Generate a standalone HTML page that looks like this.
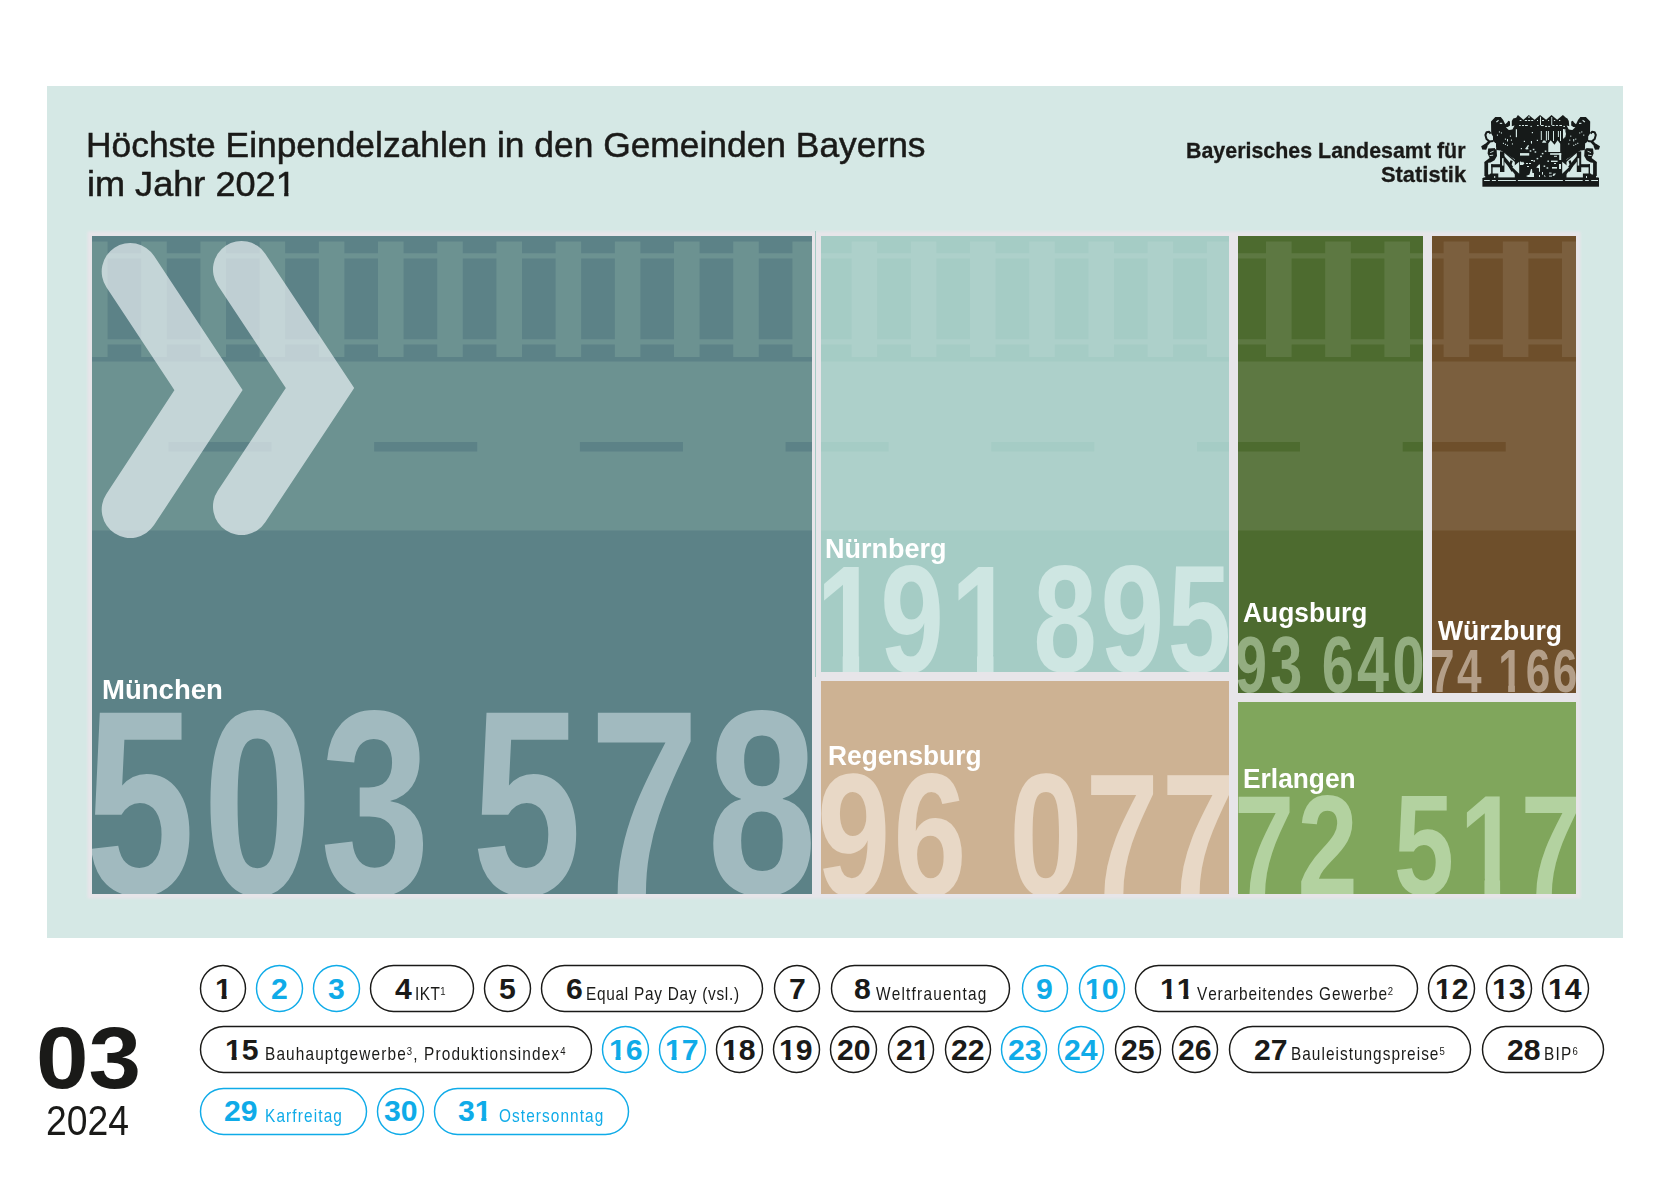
<!DOCTYPE html>
<html lang="de">
<head>
<meta charset="utf-8">
<title>Höchste Einpendelzahlen in den Gemeinden Bayerns im Jahr 2021</title>
<style>
html,body{margin:0;padding:0;background:#fff}
body{width:1670px;height:1182px;position:relative;overflow:hidden;font-family:'Liberation Sans',sans-serif;font-kerning:none;color:#1a1a18}
.panel{position:absolute;left:47px;top:86px;width:1576px;height:852px;background:#d5e8e5}
.gfx{position:absolute;left:0;top:0;width:1670px;height:1182px;display:block}
.t{position:absolute;margin:0;padding:0;font-weight:400;line-height:1;white-space:pre;transform-origin:0 0}
b.t{font-weight:700}
.tile{position:absolute;overflow:hidden}
.big{position:absolute;font-weight:700;line-height:1;white-space:pre;color:#fff;transform-origin:0 0}
sup{font-size:.62em;vertical-align:baseline;position:relative;top:-.42em;line-height:0}
.o1{display:inline-block;clip-path:polygon(-9px -9px,35px -9px,35px 25.20px,12.33px 25.20px,12.33px 70px,8.25px 70px,8.25px 25.20px,-9px 25.20px)}
.o2{display:inline-block;clip-path:polygon(-9px -9px,30px -9px,30px 20.92px,11.69px 20.92px,11.69px 60px,6.55px 60px,6.55px 20.92px,-9px 20.92px)}
.o3{display:inline-block;clip-path:polygon(-9px -9px,151px -9px,151px 111.15px,56.61px 111.15px,56.61px 303px,34.84px 303px,34.84px 111.15px,-9px 111.15px)}
.o4{display:inline-block;clip-path:polygon(-9px -9px,61px -9px,61px 43.52px,22.96px 43.52px,22.96px 121px,13.64px 121px,13.64px 43.52px,-9px 43.52px)}
.o5{display:inline-block;clip-path:polygon(-9px -9px,143px -9px,143px 104.81px,53.50px 104.81px,53.50px 286px,32.88px 286px,32.88px 104.81px,-9px 104.81px)}
</style>
</head>
<body>
<div class="panel"></div>
<header>
<h1 class="t" style="left:86.25px;top:128px;font-size:34.8px;transform:scaleX(1.0164);-webkit-text-stroke:0.5px #1a1a18;">Höchste Einpendelzahlen in den Gemeinden Bayerns</h1>
<div class="t" style="left:87.25px;top:167px;font-size:34.8px;transform:scaleX(1.0375);-webkit-text-stroke:0.5px #1a1a18;">im Jahr 202<span class="o1">1</span></div>
<div class="t" style="left:1185.75px;top:140px;font-size:22px;transform:scaleX(0.9727);-webkit-text-stroke:0.3px #1a1a18;font-weight:700;">Bayerisches Landesamt für</div>
<div class="t" style="left:1381px;top:164px;font-size:22px;transform:scaleX(0.9940);-webkit-text-stroke:0.3px #1a1a18;font-weight:700;">Statistik</div>
<svg class="gfx" width="1670" height="1182" viewBox="0 0 1670 1182" role="img" aria-label="Bayerisches Staatswappen">
<rect x="1482.4" y="178.0" width="116.6" height="8.7" fill="#161a19"/>
<rect x="1483.4" y="177.4" width="115.2" height="1.6" fill="#161a19"/>
<rect x="1484.1" y="180.0" width="5.7" height="1.0" fill="#d5e8e5"/>
<rect x="1491.9" y="180.0" width="4.0" height="1.0" fill="#d5e8e5"/>
<rect x="1498.0" y="180.0" width="17.9" height="1.0" fill="#d5e8e5"/>
<rect x="1517.9" y="180.0" width="45.0" height="1.0" fill="#d5e8e5"/>
<rect x="1565.1" y="180.0" width="17.6" height="1.0" fill="#d5e8e5"/>
<rect x="1585.1" y="180.0" width="3.7" height="1.0" fill="#d5e8e5"/>
<rect x="1591.2" y="180.0" width="6.8" height="1.0" fill="#d5e8e5"/>
<path d="M1511.8 128.0L1511.8 121.1L1513.2 118.4L1516.2 117.8L1517.9 115.0L1523.4 119.8L1528.8 115.0L1534.6 119.8L1540.0 115.0L1546.1 119.8L1551.5 115.0L1557.2 119.8L1562.9 115.0L1566.0 117.8L1567.4 118.4L1568.8 121.1L1569.4 128.0L1566.5 131.0L1566.5 178.0L1514.8 178.0L1514.8 131.0Z" fill="#161a19"/>
<path d="M1491.0 121.5L1495.3 117.0L1500.8 117.0L1503.2 120.0L1505.2 124.2L1507.2 122.4L1508.4 120.8L1510.0 121.4L1510.0 125.6L1507.6 127.2L1509.5 129.6L1513.0 128.4L1516.0 131.0L1516.0 160.0L1511.0 157.0L1505.0 152.5L1500.5 150.5L1496.5 150.0L1495.6 143.5L1493.0 140.5L1493.0 136.5L1491.2 133.5Z" fill="#161a19"/>
<path d="M1493.5 141.0L1489.5 141.5L1486.5 139.0L1485.4 135.0L1486.6 132.2L1489.2 131.8L1490.6 133.6" fill="none" stroke="#161a19" stroke-width="2.0" stroke-linecap="butt" stroke-linejoin="round"/>
<path d="M1489.5 141.5L1486.3 145.0L1483.5 148.2" fill="none" stroke="#161a19" stroke-width="2.6" stroke-linecap="butt" stroke-linejoin="round"/>
<path d="M1481.2 146.3L1485.6 143.6L1487.6 146.6L1486.2 149.8L1482.2 149.6Z" fill="#161a19"/>
<path d="M1488.2 148.6L1496.5 148.0L1497.0 156.0L1494.5 160.2L1490.5 162.6L1484.6 163.2L1484.6 161.8L1489.6 158.0L1487.6 153.4Z" fill="#161a19"/>
<rect x="1484.4" y="162.2" width="3.7" height="13.8" fill="#161a19"/>
<path d="M1485.2 174.6L1489.5 174.6L1490.5 173.6L1498.3 173.6L1498.3 178.2L1485.2 178.2Z" fill="#161a19"/>
<rect x="1491.2" y="164.2" width="9.2" height="3.1" fill="#161a19"/>
<rect x="1491.2" y="164.2" width="1.4" height="9.8" fill="#161a19"/>
<rect x="1500.0" y="151.4" width="4.4" height="20.6" fill="#161a19"/>
<path d="M1502.6 156.8L1519.6 177.2" fill="none" stroke="#161a19" stroke-width="3.6" stroke-linecap="butt" stroke-linejoin="round"/>
<path d="M1503.2 151.0L1515.5 161.5" fill="none" stroke="#161a19" stroke-width="1.5" stroke-linecap="butt" stroke-linejoin="round"/>
<path d="M1511.6 160.6L1509.8 166.5L1512.6 171.2" fill="none" stroke="#161a19" stroke-width="2.4" stroke-linecap="butt" stroke-linejoin="round"/>
<rect x="1502.0" y="158.2" width="1.6" height="7.4" fill="#d5e8e5"/>
<rect x="1495.0" y="143.2" width="1.0" height="6.0" fill="#d5e8e5"/>
<path d="M1496.0 121.6L1498.4 119.8L1498.8 120.8L1496.8 122.6Z" fill="#d5e8e5"/>
<rect x="1499.8" y="122.8" width="2.4" height="1.1" fill="#d5e8e5"/>
<path d="M1505.8 127.2L1509.6 126.8L1514.6 125.6L1512.4 129.6L1508.8 129.9Z" fill="#d5e8e5"/>
<rect x="1515.8" y="129.2" width="1.2" height="8.0" fill="#d5e8e5"/>
<rect x="1498.9" y="131.4" width="1.1" height="1.1" fill="#d5e8e5"/>
<rect x="1500.9" y="132.4" width="1.1" height="1.1" fill="#d5e8e5"/>
<rect x="1496.9" y="134.6" width="1.1" height="1.1" fill="#d5e8e5"/>
<rect x="1504.9" y="138.6" width="1.1" height="1.1" fill="#d5e8e5"/>
<rect x="1509.9" y="135.6" width="1.1" height="1.1" fill="#d5e8e5"/>
<rect x="1510.9" y="139.6" width="1.1" height="1.1" fill="#d5e8e5"/>
<rect x="1502.9" y="142.8" width="1.1" height="1.1" fill="#d5e8e5"/>
<rect x="1504.9" y="143.8" width="1.1" height="1.1" fill="#d5e8e5"/>
<rect x="1506.9" y="144.8" width="1.1" height="1.1" fill="#d5e8e5"/>
<rect x="1511.9" y="143.4" width="1.1" height="1.1" fill="#d5e8e5"/>
<rect x="1507.0" y="139.0" width="1.0" height="2.4" fill="#d5e8e5"/>
<path d="M1490.2 152.6L1493.6 151.2" fill="none" stroke="#d5e8e5" stroke-width="0.9" stroke-linecap="butt" stroke-linejoin="round"/>
<path d="M1489.6 155.6L1493.2 155.2" fill="none" stroke="#d5e8e5" stroke-width="0.9" stroke-linecap="butt" stroke-linejoin="round"/>
<rect x="1494.2" y="176.0" width="1.0" height="2.0" fill="#d5e8e5"/>
<path d="M1590.2 121.5L1585.9 117.0L1580.4 117.0L1578.0 120.0L1576.0 124.2L1574.0 122.4L1572.8 120.8L1571.2 121.4L1571.2 125.6L1573.6 127.2L1571.7 129.6L1568.2 128.4L1565.2 131.0L1565.2 160.0L1570.2 157.0L1576.2 152.5L1580.7 150.5L1584.7 150.0L1585.6 143.5L1588.2 140.5L1588.2 136.5L1590.0 133.5Z" fill="#161a19"/>
<path d="M1587.7 141.0L1591.7 141.5L1594.7 139.0L1595.8 135.0L1594.6 132.2L1592.0 131.8L1590.6 133.6" fill="none" stroke="#161a19" stroke-width="2.0" stroke-linecap="butt" stroke-linejoin="round"/>
<path d="M1591.7 141.5L1594.9 145.0L1597.7 148.2" fill="none" stroke="#161a19" stroke-width="2.6" stroke-linecap="butt" stroke-linejoin="round"/>
<path d="M1600.0 146.3L1595.6 143.6L1593.6 146.6L1595.0 149.8L1599.0 149.6Z" fill="#161a19"/>
<path d="M1593.0 148.6L1584.7 148.0L1584.2 156.0L1586.7 160.2L1590.7 162.6L1596.6 163.2L1596.6 161.8L1591.6 158.0L1593.6 153.4Z" fill="#161a19"/>
<rect x="1593.1" y="162.2" width="3.7" height="13.8" fill="#161a19"/>
<path d="M1596.0 174.6L1591.7 174.6L1590.7 173.6L1582.9 173.6L1582.9 178.2L1596.0 178.2Z" fill="#161a19"/>
<rect x="1580.8" y="164.2" width="9.2" height="3.1" fill="#161a19"/>
<rect x="1588.6" y="164.2" width="1.4" height="9.8" fill="#161a19"/>
<rect x="1576.8" y="151.4" width="4.4" height="20.6" fill="#161a19"/>
<path d="M1578.6 156.8L1561.6 177.2" fill="none" stroke="#161a19" stroke-width="3.6" stroke-linecap="butt" stroke-linejoin="round"/>
<path d="M1578.0 151.0L1565.7 161.5" fill="none" stroke="#161a19" stroke-width="1.5" stroke-linecap="butt" stroke-linejoin="round"/>
<path d="M1569.6 160.6L1571.4 166.5L1568.6 171.2" fill="none" stroke="#161a19" stroke-width="2.4" stroke-linecap="butt" stroke-linejoin="round"/>
<rect x="1577.6" y="158.2" width="1.6" height="7.4" fill="#d5e8e5"/>
<rect x="1585.2" y="143.2" width="1.0" height="6.0" fill="#d5e8e5"/>
<path d="M1585.2 121.6L1582.8 119.8L1582.4 120.8L1584.4 122.6Z" fill="#d5e8e5"/>
<rect x="1579.0" y="122.8" width="2.4" height="1.1" fill="#d5e8e5"/>
<path d="M1575.4 127.2L1571.6 126.8L1566.6 125.6L1568.8 129.6L1572.4 129.9Z" fill="#d5e8e5"/>
<rect x="1564.2" y="129.2" width="1.2" height="8.0" fill="#d5e8e5"/>
<rect x="1581.2" y="131.4" width="1.1" height="1.1" fill="#d5e8e5"/>
<rect x="1579.2" y="132.4" width="1.1" height="1.1" fill="#d5e8e5"/>
<rect x="1583.2" y="134.6" width="1.1" height="1.1" fill="#d5e8e5"/>
<rect x="1575.2" y="138.6" width="1.1" height="1.1" fill="#d5e8e5"/>
<rect x="1570.2" y="135.6" width="1.1" height="1.1" fill="#d5e8e5"/>
<rect x="1569.2" y="139.6" width="1.1" height="1.1" fill="#d5e8e5"/>
<rect x="1577.2" y="142.8" width="1.1" height="1.1" fill="#d5e8e5"/>
<rect x="1575.2" y="143.8" width="1.1" height="1.1" fill="#d5e8e5"/>
<rect x="1573.2" y="144.8" width="1.1" height="1.1" fill="#d5e8e5"/>
<rect x="1568.2" y="143.4" width="1.1" height="1.1" fill="#d5e8e5"/>
<rect x="1573.2" y="139.0" width="1.0" height="2.4" fill="#d5e8e5"/>
<path d="M1591.0 152.6L1587.6 151.2" fill="none" stroke="#d5e8e5" stroke-width="0.9" stroke-linecap="butt" stroke-linejoin="round"/>
<path d="M1591.6 155.6L1588.0 155.2" fill="none" stroke="#d5e8e5" stroke-width="0.9" stroke-linecap="butt" stroke-linejoin="round"/>
<rect x="1586.0" y="176.0" width="1.0" height="2.0" fill="#d5e8e5"/>
<rect x="1519.7" y="120.0" width="1.7" height="1.0" fill="#d5e8e5"/>
<rect x="1524.8" y="120.0" width="2.3" height="1.0" fill="#d5e8e5"/>
<rect x="1528.1" y="120.0" width="2.1" height="1.0" fill="#d5e8e5"/>
<rect x="1531.2" y="120.0" width="2.0" height="1.0" fill="#d5e8e5"/>
<rect x="1537.0" y="120.0" width="1.0" height="1.0" fill="#d5e8e5"/>
<rect x="1542.0" y="120.0" width="2.0" height="1.0" fill="#d5e8e5"/>
<rect x="1548.1" y="120.0" width="1.0" height="1.0" fill="#d5e8e5"/>
<rect x="1553.9" y="120.0" width="1.3" height="1.0" fill="#d5e8e5"/>
<rect x="1559.0" y="120.0" width="1.3" height="1.0" fill="#d5e8e5"/>
<rect x="1528.0" y="116.6" width="2.0" height="1.0" fill="#d5e8e5"/>
<rect x="1519.0" y="125.0" width="1.7" height="1.0" fill="#d5e8e5"/>
<rect x="1522.0" y="125.0" width="2.0" height="1.0" fill="#d5e8e5"/>
<rect x="1525.0" y="125.0" width="2.8" height="1.0" fill="#d5e8e5"/>
<rect x="1530.5" y="125.9" width="1.4" height="1.0" fill="#d5e8e5"/>
<rect x="1537.0" y="125.0" width="1.6" height="1.0" fill="#d5e8e5"/>
<rect x="1541.0" y="125.0" width="2.7" height="1.0" fill="#d5e8e5"/>
<rect x="1545.0" y="125.9" width="2.1" height="1.0" fill="#d5e8e5"/>
<rect x="1548.1" y="125.9" width="2.0" height="1.0" fill="#d5e8e5"/>
<rect x="1552.2" y="125.0" width="2.3" height="1.0" fill="#d5e8e5"/>
<rect x="1555.9" y="125.0" width="2.0" height="1.0" fill="#d5e8e5"/>
<rect x="1559.3" y="125.0" width="2.7" height="1.0" fill="#d5e8e5"/>
<rect x="1563.3" y="125.9" width="1.7" height="1.0" fill="#d5e8e5"/>
<rect x="1540.0" y="116.7" width="1.0" height="8.5" fill="#d5e8e5"/>
<rect x="1551.3" y="117.0" width="0.9" height="8.2" fill="#d5e8e5"/>
<rect x="1540.8" y="131.0" width="1.0" height="9.0" fill="#d5e8e5"/>
<rect x="1545.9" y="131.0" width="1.0" height="9.6" fill="#d5e8e5"/>
<rect x="1547.9" y="131.0" width="1.0" height="9.0" fill="#d5e8e5"/>
<rect x="1553.0" y="131.0" width="1.0" height="10.0" fill="#d5e8e5"/>
<rect x="1557.9" y="131.0" width="1.0" height="6.0" fill="#d5e8e5"/>
<rect x="1560.0" y="131.0" width="1.0" height="10.0" fill="#d5e8e5"/>
<path d="M1563.0 129.0L1564.0 129.0L1566.0 134.0L1564.0 138.4L1563.0 138.4Z" fill="#d5e8e5"/>
<path d="M1548.3 152.0L1548.3 143.5L1550.7 140.3L1554.5 144.8L1557.6 140.3L1560.2 143.8L1560.2 152.0Z" fill="#d5e8e5"/>
<path d="M1542.0 142.8L1543.2 140.4L1545.2 140.4L1546.4 142.8Z" fill="#d5e8e5"/>
<rect x="1550.1" y="153.2" width="11.1" height="1.6" fill="#d5e8e5"/>
<rect x="1559.2" y="153.2" width="2.0" height="6.8" fill="#d5e8e5"/>
<rect x="1554.0" y="155.8" width="3.0" height="1.0" fill="#d5e8e5"/>
<rect x="1551.0" y="160.6" width="6.6" height="1.4" fill="#d5e8e5"/>
<rect x="1554.0" y="163.0" width="2.0" height="1.0" fill="#d5e8e5"/>
<rect x="1552.0" y="167.0" width="5.0" height="1.6" fill="#d5e8e5"/>
<rect x="1549.0" y="172.6" width="2.6" height="1.0" fill="#d5e8e5"/>
<rect x="1549.0" y="175.6" width="3.0" height="1.0" fill="#d5e8e5"/>
<path d="M1552.5 175.8L1553.5 173.6L1556.0 173.6L1554.0 176.0Z" fill="#d5e8e5"/>
<path d="M1544.0 175.0L1546.0 176.4L1548.0 176.6L1544.0 176.6Z" fill="#d5e8e5"/>
<rect x="1559.0" y="164.0" width="2.0" height="5.0" fill="#d5e8e5"/>
<path d="M1562.2 161.8L1569.0 167.2L1562.2 173.7Z" fill="#d5e8e5"/>
<path d="M1519.2 161.8L1512.4 167.2L1519.2 173.7Z" fill="#d5e8e5"/>
<rect x="1520.0" y="153.1" width="9.2" height="2.5" fill="#d5e8e5"/>
<path d="M1520.0 161.4L1521.0 161.4L1522.0 162.6L1523.0 161.4L1524.4 163.4L1523.0 165.0L1520.0 165.0Z" fill="#d5e8e5"/>
<rect x="1526.0" y="163.0" width="2.0" height="1.0" fill="#d5e8e5"/>
<rect x="1529.0" y="163.0" width="2.0" height="1.0" fill="#d5e8e5"/>
<rect x="1527.0" y="166.0" width="2.0" height="1.0" fill="#d5e8e5"/>
<rect x="1531.0" y="160.0" width="2.0" height="1.0" fill="#d5e8e5"/>
<path d="M1536.2 167.6L1539.0 164.4L1540.0 164.4L1540.0 171.8L1539.0 171.8L1539.0 168.2Z" fill="#d5e8e5"/>
<path d="M1526.0 176.0L1529.5 174.4L1531.0 169.0L1532.0 169.0L1532.4 173.0L1534.0 173.0L1534.0 177.0L1528.0 177.0Z" fill="#d5e8e5"/>
<rect x="1539.0" y="175.0" width="1.0" height="2.0" fill="#d5e8e5"/>
<rect x="1542.0" y="172.0" width="1.0" height="2.6" fill="#d5e8e5"/>
<rect x="1526.7" y="147.9" width="1.6" height="1.4" fill="#d5e8e5"/>
<rect x="1529.7" y="150.3" width="1.6" height="1.4" fill="#d5e8e5"/>
<rect x="1532.8" y="148.8" width="1.6" height="1.4" fill="#d5e8e5"/>
<rect x="1534.6" y="151.3" width="1.6" height="1.4" fill="#d5e8e5"/>
<rect x="1541.8" y="152.9" width="1.6" height="1.4" fill="#d5e8e5"/>
<rect x="1540.2" y="155.7" width="1.6" height="1.4" fill="#d5e8e5"/>
<rect x="1536.6" y="157.9" width="1.6" height="1.4" fill="#d5e8e5"/>
<rect x="1533.4" y="160.3" width="1.6" height="1.4" fill="#d5e8e5"/>
<rect x="1544.8" y="150.5" width="1.6" height="1.4" fill="#d5e8e5"/>
<rect x="1547.4" y="160.5" width="1.6" height="1.4" fill="#d5e8e5"/>
<rect x="1543.6" y="165.5" width="1.6" height="1.4" fill="#d5e8e5"/>
<rect x="1546.6" y="167.3" width="1.6" height="1.4" fill="#d5e8e5"/>
<path d="M1525.0 149.0L1528.0 145.0L1529.0 145.6L1527.0 149.6Z" fill="#d5e8e5"/>
<rect x="1531.8" y="132.0" width="1.2" height="1.2" fill="#d5e8e5"/>
<rect x="1523.8" y="140.8" width="1.2" height="1.2" fill="#d5e8e5"/>
<rect x="1536.8" y="139.8" width="1.2" height="1.2" fill="#d5e8e5"/>
<rect x="1530.8" y="141.4" width="1.2" height="1.2" fill="#d5e8e5"/>
<rect x="1520.8" y="148.0" width="1.2" height="1.2" fill="#d5e8e5"/>
<rect x="1531.0" y="141.0" width="1.0" height="2.6" fill="#d5e8e5"/>
</svg>
</header>
<main>
<svg class="gfx" width="1670" height="1182" viewBox="0 0 1670 1182">
<defs>
<clipPath id="c_mu"><rect x="92" y="236" width="720" height="658"/></clipPath>
<clipPath id="c_nu"><rect x="821" y="236" width="408" height="436"/></clipPath>
<clipPath id="c_au"><rect x="1238" y="236" width="185" height="457"/></clipPath>
<clipPath id="c_wu"><rect x="1432" y="236" width="144" height="457"/></clipPath>
<filter id="bl" x="-1%" y="-2%" width="102%" height="104%"><feGaussianBlur stdDeviation="1.1"/></filter>
</defs>
<rect x="87.5" y="231.5" width="1493" height="667" fill="#e7e5e9" filter="url(#bl)"/>
<path d="M812 236h9v658h-9zM1229 236h9v658h-9zM1423 236h9v457h-9zM821 672h408v9h-408zM1238 693h338v9h-338z" fill="#e7e5e9"/>
<rect x="815" y="231" width="1" height="446" fill="#a5ccc5"/>
<rect x="92" y="236" width="720" height="658" fill="#5c8287"/>
<rect x="821" y="236" width="408" height="436" fill="#a5ccc5"/>
<rect x="821" y="681" width="408" height="213" fill="#cdb293"/>
<rect x="1238" y="236" width="185" height="457" fill="#4d6b2f"/>
<rect x="1432" y="236" width="144" height="457" fill="#6e4f2b"/>
<rect x="1238" y="702" width="338" height="192" fill="#80a65c"/>
<g clip-path="url(#c_mu)" fill="#d7fddc" fill-opacity="0.13"><path d="M82.0 241.6h25.6V357h-25.6ZM107.6 253.2H141.2V258.4H107.6ZM107.6 339.2H141.2V344.6H107.6ZM141.2 241.6h25.6V357h-25.6ZM166.8 253.2H200.4V258.4H166.8ZM166.8 339.2H200.4V344.6H166.8ZM200.4 241.6h25.6V357h-25.6ZM226.0 253.2H259.6V258.4H226.0ZM226.0 339.2H259.6V344.6H226.0ZM259.6 241.6h25.6V357h-25.6ZM285.2 253.2H318.8V258.4H285.2ZM285.2 339.2H318.8V344.6H285.2ZM318.8 241.6h25.6V357h-25.6ZM344.4 253.2H378.0V258.4H344.4ZM344.4 339.2H378.0V344.6H344.4ZM378.0 241.6h25.6V357h-25.6ZM403.6 253.2H437.2V258.4H403.6ZM403.6 339.2H437.2V344.6H403.6ZM437.2 241.6h25.6V357h-25.6ZM462.8 253.2H496.4V258.4H462.8ZM462.8 339.2H496.4V344.6H462.8ZM496.4 241.6h25.6V357h-25.6ZM522.0 253.2H555.6V258.4H522.0ZM522.0 339.2H555.6V344.6H522.0ZM555.6 241.6h25.6V357h-25.6ZM581.2 253.2H614.8V258.4H581.2ZM581.2 339.2H614.8V344.6H581.2ZM614.8 241.6h25.6V357h-25.6ZM640.4 253.2H674.0V258.4H640.4ZM640.4 339.2H674.0V344.6H640.4ZM674.0 241.6h25.6V357h-25.6ZM699.6 253.2H733.2V258.4H699.6ZM699.6 339.2H733.2V344.6H699.6ZM733.2 241.6h25.6V357h-25.6ZM758.8 253.2H792.4V258.4H758.8ZM758.8 339.2H792.4V344.6H758.8ZM792.4 241.6h25.6V357h-25.6ZM818.0 253.2H851.6V258.4H818.0ZM818.0 339.2H851.6V344.6H818.0ZM851.6 241.6h25.6V357h-25.6ZM877.2 253.2H910.8V258.4H877.2ZM877.2 339.2H910.8V344.6H877.2ZM910.8 241.6h25.6V357h-25.6ZM936.4 253.2H970.0V258.4H936.4ZM936.4 339.2H970.0V344.6H936.4ZM970.0 241.6h25.6V357h-25.6ZM995.6 253.2H1029.2V258.4H995.6ZM995.6 339.2H1029.2V344.6H995.6ZM1029.2 241.6h25.6V357h-25.6ZM1054.8 253.2H1088.4V258.4H1054.8ZM1054.8 339.2H1088.4V344.6H1054.8ZM1088.4 241.6h25.6V357h-25.6ZM1114.0 253.2H1147.6V258.4H1114.0ZM1114.0 339.2H1147.6V344.6H1114.0ZM1147.6 241.6h25.6V357h-25.6ZM1173.2 253.2H1206.8V258.4H1173.2ZM1173.2 339.2H1206.8V344.6H1173.2ZM1206.8 241.6h25.6V357h-25.6ZM1232.4 253.2H1266.0V258.4H1232.4ZM1232.4 339.2H1266.0V344.6H1232.4ZM1266.0 241.6h25.6V357h-25.6ZM1291.6 253.2H1325.2V258.4H1291.6ZM1291.6 339.2H1325.2V344.6H1291.6ZM1325.2 241.6h25.6V357h-25.6ZM1350.8 253.2H1384.4V258.4H1350.8ZM1350.8 339.2H1384.4V344.6H1350.8ZM1384.4 241.6h25.6V357h-25.6ZM1410.0 253.2H1443.6V258.4H1410.0ZM1410.0 339.2H1443.6V344.6H1410.0ZM1443.6 241.6h25.6V357h-25.6ZM1469.2 253.2H1502.8V258.4H1469.2ZM1469.2 339.2H1502.8V344.6H1469.2ZM1502.8 241.6h25.6V357h-25.6ZM1528.4 253.2H1562.0V258.4H1528.4ZM1528.4 339.2H1562.0V344.6H1528.4ZM1562.0 241.6h25.6V357h-25.6ZM1587.6 253.2H1621.2V258.4H1587.6ZM1587.6 339.2H1621.2V344.6H1587.6Z"/><path d="M92 361.5H1576V442H92ZM92 451.4H1576V530.5H92ZM92.0 442H168.5V451.4H92.0ZM271.5 442H374.2V451.4H271.5ZM477.2 442H579.9V451.4H477.2ZM682.9 442H785.6V451.4H682.9ZM888.6 442H991.3V451.4H888.6ZM1094.3 442H1197.0V451.4H1094.3ZM1300.0 442H1402.7V451.4H1300.0ZM1505.7 442H1576.0V451.4H1505.7Z"/></g>
<g clip-path="url(#c_nu)" fill="#fff" fill-opacity="0.095"><path d="M82.0 241.6h25.6V357h-25.6ZM107.6 253.2H141.2V258.4H107.6ZM107.6 339.2H141.2V344.6H107.6ZM141.2 241.6h25.6V357h-25.6ZM166.8 253.2H200.4V258.4H166.8ZM166.8 339.2H200.4V344.6H166.8ZM200.4 241.6h25.6V357h-25.6ZM226.0 253.2H259.6V258.4H226.0ZM226.0 339.2H259.6V344.6H226.0ZM259.6 241.6h25.6V357h-25.6ZM285.2 253.2H318.8V258.4H285.2ZM285.2 339.2H318.8V344.6H285.2ZM318.8 241.6h25.6V357h-25.6ZM344.4 253.2H378.0V258.4H344.4ZM344.4 339.2H378.0V344.6H344.4ZM378.0 241.6h25.6V357h-25.6ZM403.6 253.2H437.2V258.4H403.6ZM403.6 339.2H437.2V344.6H403.6ZM437.2 241.6h25.6V357h-25.6ZM462.8 253.2H496.4V258.4H462.8ZM462.8 339.2H496.4V344.6H462.8ZM496.4 241.6h25.6V357h-25.6ZM522.0 253.2H555.6V258.4H522.0ZM522.0 339.2H555.6V344.6H522.0ZM555.6 241.6h25.6V357h-25.6ZM581.2 253.2H614.8V258.4H581.2ZM581.2 339.2H614.8V344.6H581.2ZM614.8 241.6h25.6V357h-25.6ZM640.4 253.2H674.0V258.4H640.4ZM640.4 339.2H674.0V344.6H640.4ZM674.0 241.6h25.6V357h-25.6ZM699.6 253.2H733.2V258.4H699.6ZM699.6 339.2H733.2V344.6H699.6ZM733.2 241.6h25.6V357h-25.6ZM758.8 253.2H792.4V258.4H758.8ZM758.8 339.2H792.4V344.6H758.8ZM792.4 241.6h25.6V357h-25.6ZM818.0 253.2H851.6V258.4H818.0ZM818.0 339.2H851.6V344.6H818.0ZM851.6 241.6h25.6V357h-25.6ZM877.2 253.2H910.8V258.4H877.2ZM877.2 339.2H910.8V344.6H877.2ZM910.8 241.6h25.6V357h-25.6ZM936.4 253.2H970.0V258.4H936.4ZM936.4 339.2H970.0V344.6H936.4ZM970.0 241.6h25.6V357h-25.6ZM995.6 253.2H1029.2V258.4H995.6ZM995.6 339.2H1029.2V344.6H995.6ZM1029.2 241.6h25.6V357h-25.6ZM1054.8 253.2H1088.4V258.4H1054.8ZM1054.8 339.2H1088.4V344.6H1054.8ZM1088.4 241.6h25.6V357h-25.6ZM1114.0 253.2H1147.6V258.4H1114.0ZM1114.0 339.2H1147.6V344.6H1114.0ZM1147.6 241.6h25.6V357h-25.6ZM1173.2 253.2H1206.8V258.4H1173.2ZM1173.2 339.2H1206.8V344.6H1173.2ZM1206.8 241.6h25.6V357h-25.6ZM1232.4 253.2H1266.0V258.4H1232.4ZM1232.4 339.2H1266.0V344.6H1232.4ZM1266.0 241.6h25.6V357h-25.6ZM1291.6 253.2H1325.2V258.4H1291.6ZM1291.6 339.2H1325.2V344.6H1291.6ZM1325.2 241.6h25.6V357h-25.6ZM1350.8 253.2H1384.4V258.4H1350.8ZM1350.8 339.2H1384.4V344.6H1350.8ZM1384.4 241.6h25.6V357h-25.6ZM1410.0 253.2H1443.6V258.4H1410.0ZM1410.0 339.2H1443.6V344.6H1410.0ZM1443.6 241.6h25.6V357h-25.6ZM1469.2 253.2H1502.8V258.4H1469.2ZM1469.2 339.2H1502.8V344.6H1469.2ZM1502.8 241.6h25.6V357h-25.6ZM1528.4 253.2H1562.0V258.4H1528.4ZM1528.4 339.2H1562.0V344.6H1528.4ZM1562.0 241.6h25.6V357h-25.6ZM1587.6 253.2H1621.2V258.4H1587.6ZM1587.6 339.2H1621.2V344.6H1587.6Z"/><path d="M92 361.5H1576V442H92ZM92 451.4H1576V530.5H92ZM92.0 442H168.5V451.4H92.0ZM271.5 442H374.2V451.4H271.5ZM477.2 442H579.9V451.4H477.2ZM682.9 442H785.6V451.4H682.9ZM888.6 442H991.3V451.4H888.6ZM1094.3 442H1197.0V451.4H1094.3ZM1300.0 442H1402.7V451.4H1300.0ZM1505.7 442H1576.0V451.4H1505.7Z"/></g>
<g clip-path="url(#c_au)" fill="#fff" fill-opacity="0.095"><path d="M82.0 241.6h25.6V357h-25.6ZM107.6 253.2H141.2V258.4H107.6ZM107.6 339.2H141.2V344.6H107.6ZM141.2 241.6h25.6V357h-25.6ZM166.8 253.2H200.4V258.4H166.8ZM166.8 339.2H200.4V344.6H166.8ZM200.4 241.6h25.6V357h-25.6ZM226.0 253.2H259.6V258.4H226.0ZM226.0 339.2H259.6V344.6H226.0ZM259.6 241.6h25.6V357h-25.6ZM285.2 253.2H318.8V258.4H285.2ZM285.2 339.2H318.8V344.6H285.2ZM318.8 241.6h25.6V357h-25.6ZM344.4 253.2H378.0V258.4H344.4ZM344.4 339.2H378.0V344.6H344.4ZM378.0 241.6h25.6V357h-25.6ZM403.6 253.2H437.2V258.4H403.6ZM403.6 339.2H437.2V344.6H403.6ZM437.2 241.6h25.6V357h-25.6ZM462.8 253.2H496.4V258.4H462.8ZM462.8 339.2H496.4V344.6H462.8ZM496.4 241.6h25.6V357h-25.6ZM522.0 253.2H555.6V258.4H522.0ZM522.0 339.2H555.6V344.6H522.0ZM555.6 241.6h25.6V357h-25.6ZM581.2 253.2H614.8V258.4H581.2ZM581.2 339.2H614.8V344.6H581.2ZM614.8 241.6h25.6V357h-25.6ZM640.4 253.2H674.0V258.4H640.4ZM640.4 339.2H674.0V344.6H640.4ZM674.0 241.6h25.6V357h-25.6ZM699.6 253.2H733.2V258.4H699.6ZM699.6 339.2H733.2V344.6H699.6ZM733.2 241.6h25.6V357h-25.6ZM758.8 253.2H792.4V258.4H758.8ZM758.8 339.2H792.4V344.6H758.8ZM792.4 241.6h25.6V357h-25.6ZM818.0 253.2H851.6V258.4H818.0ZM818.0 339.2H851.6V344.6H818.0ZM851.6 241.6h25.6V357h-25.6ZM877.2 253.2H910.8V258.4H877.2ZM877.2 339.2H910.8V344.6H877.2ZM910.8 241.6h25.6V357h-25.6ZM936.4 253.2H970.0V258.4H936.4ZM936.4 339.2H970.0V344.6H936.4ZM970.0 241.6h25.6V357h-25.6ZM995.6 253.2H1029.2V258.4H995.6ZM995.6 339.2H1029.2V344.6H995.6ZM1029.2 241.6h25.6V357h-25.6ZM1054.8 253.2H1088.4V258.4H1054.8ZM1054.8 339.2H1088.4V344.6H1054.8ZM1088.4 241.6h25.6V357h-25.6ZM1114.0 253.2H1147.6V258.4H1114.0ZM1114.0 339.2H1147.6V344.6H1114.0ZM1147.6 241.6h25.6V357h-25.6ZM1173.2 253.2H1206.8V258.4H1173.2ZM1173.2 339.2H1206.8V344.6H1173.2ZM1206.8 241.6h25.6V357h-25.6ZM1232.4 253.2H1266.0V258.4H1232.4ZM1232.4 339.2H1266.0V344.6H1232.4ZM1266.0 241.6h25.6V357h-25.6ZM1291.6 253.2H1325.2V258.4H1291.6ZM1291.6 339.2H1325.2V344.6H1291.6ZM1325.2 241.6h25.6V357h-25.6ZM1350.8 253.2H1384.4V258.4H1350.8ZM1350.8 339.2H1384.4V344.6H1350.8ZM1384.4 241.6h25.6V357h-25.6ZM1410.0 253.2H1443.6V258.4H1410.0ZM1410.0 339.2H1443.6V344.6H1410.0ZM1443.6 241.6h25.6V357h-25.6ZM1469.2 253.2H1502.8V258.4H1469.2ZM1469.2 339.2H1502.8V344.6H1469.2ZM1502.8 241.6h25.6V357h-25.6ZM1528.4 253.2H1562.0V258.4H1528.4ZM1528.4 339.2H1562.0V344.6H1528.4ZM1562.0 241.6h25.6V357h-25.6ZM1587.6 253.2H1621.2V258.4H1587.6ZM1587.6 339.2H1621.2V344.6H1587.6Z"/><path d="M92 361.5H1576V442H92ZM92 451.4H1576V530.5H92ZM92.0 442H168.5V451.4H92.0ZM271.5 442H374.2V451.4H271.5ZM477.2 442H579.9V451.4H477.2ZM682.9 442H785.6V451.4H682.9ZM888.6 442H991.3V451.4H888.6ZM1094.3 442H1197.0V451.4H1094.3ZM1300.0 442H1402.7V451.4H1300.0ZM1505.7 442H1576.0V451.4H1505.7Z"/></g>
<g clip-path="url(#c_wu)" fill="#fff" fill-opacity="0.095"><path d="M82.0 241.6h25.6V357h-25.6ZM107.6 253.2H141.2V258.4H107.6ZM107.6 339.2H141.2V344.6H107.6ZM141.2 241.6h25.6V357h-25.6ZM166.8 253.2H200.4V258.4H166.8ZM166.8 339.2H200.4V344.6H166.8ZM200.4 241.6h25.6V357h-25.6ZM226.0 253.2H259.6V258.4H226.0ZM226.0 339.2H259.6V344.6H226.0ZM259.6 241.6h25.6V357h-25.6ZM285.2 253.2H318.8V258.4H285.2ZM285.2 339.2H318.8V344.6H285.2ZM318.8 241.6h25.6V357h-25.6ZM344.4 253.2H378.0V258.4H344.4ZM344.4 339.2H378.0V344.6H344.4ZM378.0 241.6h25.6V357h-25.6ZM403.6 253.2H437.2V258.4H403.6ZM403.6 339.2H437.2V344.6H403.6ZM437.2 241.6h25.6V357h-25.6ZM462.8 253.2H496.4V258.4H462.8ZM462.8 339.2H496.4V344.6H462.8ZM496.4 241.6h25.6V357h-25.6ZM522.0 253.2H555.6V258.4H522.0ZM522.0 339.2H555.6V344.6H522.0ZM555.6 241.6h25.6V357h-25.6ZM581.2 253.2H614.8V258.4H581.2ZM581.2 339.2H614.8V344.6H581.2ZM614.8 241.6h25.6V357h-25.6ZM640.4 253.2H674.0V258.4H640.4ZM640.4 339.2H674.0V344.6H640.4ZM674.0 241.6h25.6V357h-25.6ZM699.6 253.2H733.2V258.4H699.6ZM699.6 339.2H733.2V344.6H699.6ZM733.2 241.6h25.6V357h-25.6ZM758.8 253.2H792.4V258.4H758.8ZM758.8 339.2H792.4V344.6H758.8ZM792.4 241.6h25.6V357h-25.6ZM818.0 253.2H851.6V258.4H818.0ZM818.0 339.2H851.6V344.6H818.0ZM851.6 241.6h25.6V357h-25.6ZM877.2 253.2H910.8V258.4H877.2ZM877.2 339.2H910.8V344.6H877.2ZM910.8 241.6h25.6V357h-25.6ZM936.4 253.2H970.0V258.4H936.4ZM936.4 339.2H970.0V344.6H936.4ZM970.0 241.6h25.6V357h-25.6ZM995.6 253.2H1029.2V258.4H995.6ZM995.6 339.2H1029.2V344.6H995.6ZM1029.2 241.6h25.6V357h-25.6ZM1054.8 253.2H1088.4V258.4H1054.8ZM1054.8 339.2H1088.4V344.6H1054.8ZM1088.4 241.6h25.6V357h-25.6ZM1114.0 253.2H1147.6V258.4H1114.0ZM1114.0 339.2H1147.6V344.6H1114.0ZM1147.6 241.6h25.6V357h-25.6ZM1173.2 253.2H1206.8V258.4H1173.2ZM1173.2 339.2H1206.8V344.6H1173.2ZM1206.8 241.6h25.6V357h-25.6ZM1232.4 253.2H1266.0V258.4H1232.4ZM1232.4 339.2H1266.0V344.6H1232.4ZM1266.0 241.6h25.6V357h-25.6ZM1291.6 253.2H1325.2V258.4H1291.6ZM1291.6 339.2H1325.2V344.6H1291.6ZM1325.2 241.6h25.6V357h-25.6ZM1350.8 253.2H1384.4V258.4H1350.8ZM1350.8 339.2H1384.4V344.6H1350.8ZM1384.4 241.6h25.6V357h-25.6ZM1410.0 253.2H1443.6V258.4H1410.0ZM1410.0 339.2H1443.6V344.6H1410.0ZM1443.6 241.6h25.6V357h-25.6ZM1469.2 253.2H1502.8V258.4H1469.2ZM1469.2 339.2H1502.8V344.6H1469.2ZM1502.8 241.6h25.6V357h-25.6ZM1528.4 253.2H1562.0V258.4H1528.4ZM1528.4 339.2H1562.0V344.6H1528.4ZM1562.0 241.6h25.6V357h-25.6ZM1587.6 253.2H1621.2V258.4H1587.6ZM1587.6 339.2H1621.2V344.6H1587.6Z"/><path d="M92 361.5H1576V442H92ZM92 451.4H1576V530.5H92ZM92.0 442H168.5V451.4H92.0ZM271.5 442H374.2V451.4H271.5ZM477.2 442H579.9V451.4H477.2ZM682.9 442H785.6V451.4H682.9ZM888.6 442H991.3V451.4H888.6ZM1094.3 442H1197.0V451.4H1094.3ZM1300.0 442H1402.7V451.4H1300.0ZM1505.7 442H1576.0V451.4H1505.7Z"/></g>
<g clip-path="url(#c_mu)" fill="none" stroke="#f5fbfe" stroke-opacity="0.645" stroke-width="57" stroke-linecap="round" stroke-linejoin="miter" stroke-miterlimit="10">
<path d="M130.2 271.5L208.5 390L130.2 509.5"/>
<path d="M241.5 269.5L320 388L241.5 506.5"/>
</g>
</svg>
<section class="tile" style="left:92px;top:236px;width:720px;height:658px"><h2 class="t" style="left:9.5px;top:440px;font-size:27.6px;color:#fff;transform:scaleX(0.9983);font-weight:700;">München</h2><div class="big" style="left:-7.41px;top:436.32px;font-size:263.4px;letter-spacing:10.21px;word-spacing:-38.25px;transform:scaleX(0.7506);color:#a1babf">503 578</div></section>
<section class="tile" style="left:821px;top:236px;width:408px;height:436px"><h2 class="t" style="left:4.25px;top:299px;font-size:27.6px;color:#fff;transform:scaleX(0.9783);font-weight:700;">Nürnberg</h2><div class="big" style="left:-8.08px;top:307.82px;font-size:151.4px;letter-spacing:4.65px;word-spacing:-22.18px;transform:scaleX(0.7565);color:#cee6e2"><span class="o3" style="position:relative;left:4.4px">1</span>9<span class="o3" style="position:relative;left:4.3px">1</span> 895</div></section>
<section class="tile" style="left:821px;top:681px;width:408px;height:213px"><h2 class="t" style="left:6.5px;top:61px;font-size:27.6px;color:#fff;transform:scaleX(0.9535);font-weight:700;">Regensburg</h2><div class="big" style="left:-4.40px;top:67.02px;font-size:174px;letter-spacing:3.89px;word-spacing:-0.04px;transform:scaleX(0.7579);color:#e8d8c6">96 077</div></section>
<section class="tile" style="left:1238px;top:236px;width:185px;height:457px"><h2 class="t" style="left:4.5px;top:363px;font-size:27.6px;color:#fff;transform:scaleX(0.9551);font-weight:700;">Augsburg</h2><div class="big" style="left:-2.69px;top:388.97px;font-size:79.1px;letter-spacing:4.56px;word-spacing:-4.48px;transform:scaleX(0.7281);color:#93ad80">93 640</div></section>
<section class="tile" style="left:1432px;top:236px;width:144px;height:457px"><h2 class="t" style="left:5.5px;top:381px;font-size:27.6px;color:#fff;transform:scaleX(0.9638);font-weight:700;">Würzburg</h2><div class="big" style="left:-1.83px;top:404.72px;font-size:60.6px;letter-spacing:3.36px;word-spacing:0.17px;transform:scaleX(0.7287);color:#b39e88">74 <span class="o4" style="position:relative;left:-0.9px">1</span>66</div></section>
<section class="tile" style="left:1238px;top:702px;width:338px;height:192px"><h2 class="t" style="left:4.75px;top:63px;font-size:27.6px;color:#fff;transform:scaleX(0.9544);font-weight:700;">Erlangen</h2><div class="big" style="left:-4.06px;top:72.02px;font-size:143px;letter-spacing:4.24px;word-spacing:-0.65px;transform:scaleX(0.7576);color:#b3d2a0">72 5<span class="o5" style="position:relative;left:3.1px">1</span>7</div></section>
</main>
<footer>
<div class="t" style="left:36px;top:1015px;font-size:87.6px;transform:scaleX(1.0780);font-weight:700;">03</div>
<div class="t" style="left:46.25px;top:1100px;font-size:41.6px;transform:scaleX(0.8978);">2024</div>
<svg class="gfx" width="1670" height="1182" viewBox="0 0 1670 1182"><g fill="none" stroke-width="1.45">
<rect x="200.5" y="965.5" width="45" height="46" rx="23" stroke="#1a1a18"/>
<rect x="256.5" y="965.5" width="46" height="46" rx="23" stroke="#0fabe8"/>
<rect x="313.5" y="965.5" width="46" height="46" rx="23" stroke="#0fabe8"/>
<rect x="370.5" y="965.5" width="103" height="46" rx="23" stroke="#1a1a18"/>
<rect x="484.5" y="965.5" width="46" height="46" rx="23" stroke="#1a1a18"/>
<rect x="541.5" y="965.5" width="221" height="46" rx="23" stroke="#1a1a18"/>
<rect x="774.5" y="965.5" width="45" height="46" rx="23" stroke="#1a1a18"/>
<rect x="831.5" y="965.5" width="178" height="46" rx="23" stroke="#1a1a18"/>
<rect x="1022.5" y="965.5" width="45" height="46" rx="23" stroke="#0fabe8"/>
<rect x="1079.5" y="965.5" width="45" height="46" rx="23" stroke="#0fabe8"/>
<rect x="1135.5" y="965.5" width="282" height="46" rx="23" stroke="#1a1a18"/>
<rect x="1428.5" y="965.5" width="46" height="46" rx="23" stroke="#1a1a18"/>
<rect x="1486.5" y="965.5" width="45" height="46" rx="23" stroke="#1a1a18"/>
<rect x="1542.5" y="965.5" width="46" height="46" rx="23" stroke="#1a1a18"/>
<rect x="200.5" y="1026.5" width="391" height="46" rx="23" stroke="#1a1a18"/>
<rect x="602.5" y="1026.5" width="46" height="46" rx="23" stroke="#0fabe8"/>
<rect x="659.5" y="1026.5" width="46" height="46" rx="23" stroke="#0fabe8"/>
<rect x="716.5" y="1026.5" width="46" height="46" rx="23" stroke="#1a1a18"/>
<rect x="773.5" y="1026.5" width="46" height="46" rx="23" stroke="#1a1a18"/>
<rect x="830.5" y="1026.5" width="46" height="46" rx="23" stroke="#1a1a18"/>
<rect x="888.5" y="1026.5" width="45" height="46" rx="23" stroke="#1a1a18"/>
<rect x="945.5" y="1026.5" width="45" height="46" rx="23" stroke="#1a1a18"/>
<rect x="1001.5" y="1026.5" width="45" height="46" rx="23" stroke="#0fabe8"/>
<rect x="1058.5" y="1026.5" width="45" height="46" rx="23" stroke="#0fabe8"/>
<rect x="1115.5" y="1026.5" width="45" height="46" rx="23" stroke="#1a1a18"/>
<rect x="1172.5" y="1026.5" width="45" height="46" rx="23" stroke="#1a1a18"/>
<rect x="1229.5" y="1026.5" width="241" height="46" rx="23" stroke="#1a1a18"/>
<rect x="1482.5" y="1026.5" width="121" height="46" rx="23" stroke="#1a1a18"/>
<rect x="200.5" y="1088.5" width="166" height="46" rx="23" stroke="#0fabe8"/>
<rect x="377.5" y="1088.5" width="46" height="46" rx="23" stroke="#0fabe8"/>
<rect x="434.5" y="1088.5" width="194" height="46" rx="23" stroke="#0fabe8"/>
</g></svg>
<b class="t" style="left:215px;top:974px;font-size:30.2px;"><span class="o2">1</span></b>
<b class="t" style="left:271px;top:974px;font-size:30.2px;color:#0fabe8;">2</b>
<b class="t" style="left:328px;top:974px;font-size:30.2px;color:#0fabe8;">3</b>
<b class="t" style="left:395px;top:974px;font-size:30.2px;">4</b>
<span class="t" style="left:415px;top:986px;font-size:17.7px;letter-spacing:0.510px;transform:scaleX(0.8700);">IKT<sup>1</sup></span>
<b class="t" style="left:499px;top:974px;font-size:30.2px;">5</b>
<b class="t" style="left:566px;top:974px;font-size:30.2px;">6</b>
<span class="t" style="left:585.5px;top:986px;font-size:17.7px;letter-spacing:0.831px;transform:scaleX(0.8700);">Equal Pay Day (vsl.)</span>
<b class="t" style="left:789px;top:974px;font-size:30.2px;">7</b>
<b class="t" style="left:854px;top:974px;font-size:30.2px;">8</b>
<span class="t" style="left:875.5px;top:986px;font-size:17.7px;letter-spacing:1.386px;transform:scaleX(0.8700);">Weltfrauentag</span>
<b class="t" style="left:1036px;top:974px;font-size:30.2px;color:#0fabe8;">9</b>
<b class="t" style="left:1085px;top:974px;font-size:30.2px;color:#0fabe8;"><span class="o2">1</span>0</b>
<b class="t" style="left:1160px;top:974px;font-size:30.2px;"><span class="o2">1</span><span class="o2">1</span></b>
<span class="t" style="left:1197.25px;top:986px;font-size:17.7px;letter-spacing:1.032px;transform:scaleX(0.8700);">Verarbeitendes Gewerbe<sup>2</sup></span>
<b class="t" style="left:1435px;top:974px;font-size:30.2px;"><span class="o2">1</span>2</b>
<b class="t" style="left:1492px;top:974px;font-size:30.2px;"><span class="o2">1</span>3</b>
<b class="t" style="left:1548px;top:974px;font-size:30.2px;"><span class="o2">1</span>4</b>
<b class="t" style="left:225px;top:1035px;font-size:30.2px;"><span class="o2">1</span>5</b>
<span class="t" style="left:264.5px;top:1046px;font-size:17.7px;letter-spacing:1.295px;transform:scaleX(0.8700);">Bauhauptgewerbe<sup>3</sup>, Produktionsindex<sup>4</sup></span>
<b class="t" style="left:609px;top:1035px;font-size:30.2px;color:#0fabe8;"><span class="o2">1</span>6</b>
<b class="t" style="left:665px;top:1035px;font-size:30.2px;color:#0fabe8;"><span class="o2">1</span>7</b>
<b class="t" style="left:722px;top:1035px;font-size:30.2px;"><span class="o2">1</span>8</b>
<b class="t" style="left:779px;top:1035px;font-size:30.2px;"><span class="o2">1</span>9</b>
<b class="t" style="left:837px;top:1035px;font-size:30.2px;">20</b>
<b class="t" style="left:896px;top:1035px;font-size:30.2px;">2<span class="o2">1</span></b>
<b class="t" style="left:951px;top:1035px;font-size:30.2px;">22</b>
<b class="t" style="left:1008px;top:1035px;font-size:30.2px;color:#0fabe8;">23</b>
<b class="t" style="left:1064px;top:1035px;font-size:30.2px;color:#0fabe8;">24</b>
<b class="t" style="left:1121px;top:1035px;font-size:30.2px;">25</b>
<b class="t" style="left:1178px;top:1035px;font-size:30.2px;">26</b>
<b class="t" style="left:1254px;top:1035px;font-size:30.2px;">27</b>
<span class="t" style="left:1290.75px;top:1046px;font-size:17.7px;letter-spacing:1.176px;transform:scaleX(0.8700);">Bauleistungspreise<sup>5</sup></span>
<b class="t" style="left:1507px;top:1035px;font-size:30.2px;">28</b>
<span class="t" style="left:1543.75px;top:1046px;font-size:17.7px;letter-spacing:1.375px;transform:scaleX(0.8700);">BIP<sup>6</sup></span>
<b class="t" style="left:224px;top:1096px;font-size:30.2px;color:#0fabe8;">29</b>
<span class="t" style="left:264.5px;top:1108px;font-size:17.7px;color:#0fabe8;letter-spacing:1.305px;transform:scaleX(0.8700);">Karfreitag</span>
<b class="t" style="left:384px;top:1096px;font-size:30.2px;color:#0fabe8;">30</b>
<b class="t" style="left:458px;top:1096px;font-size:30.2px;color:#0fabe8;">3<span class="o2">1</span></b>
<span class="t" style="left:498.75px;top:1108px;font-size:17.7px;color:#0fabe8;letter-spacing:1.246px;transform:scaleX(0.8700);">Ostersonntag</span>
</footer>
</body>
</html>
